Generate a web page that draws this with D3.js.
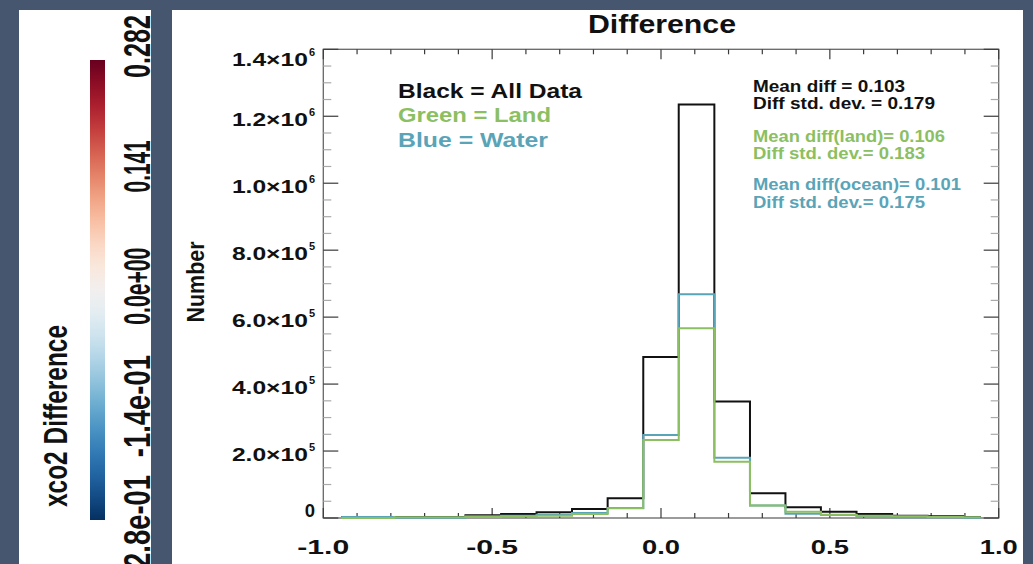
<!DOCTYPE html>
<html><head><meta charset="utf-8">
<script src="https://cdn.jsdelivr.net/npm/d3@7"></script>
<style>html,body{margin:0;padding:0;background:#46566e;overflow:hidden} svg{display:block}</style>
</head><body>
<svg id="c" width="1033" height="564"></svg>
<script>
// ---------- data ----------
const binCenters = [-0.947, -0.842, -0.737, -0.632, -0.526, -0.421, -0.316, -0.211, -0.105, 0.000,
                    0.105, 0.211, 0.316, 0.421, 0.526, 0.632, 0.737, 0.842, 0.947];
const allData   = [3000, 3000, 3000, 3000, 8000, 12000, 17000, 27000, 59000, 481000,
                   1235000, 348000, 74000, 32000, 19000, 12000, 7000, 5000, 3000];
const landData  = [0, 0, 2000, 2000, 3000, 5000, 7000, 12000, 29000, 233000,
                   567000, 168000, 37000, 19000, 10000, 7000, 5000, 3000, 2000];
const waterData = [3000, 3000, 1000, 1000, 5000, 7000, 10000, 15000, 30000, 248000,
                   668000, 180000, 37000, 13000, 9000, 5000, 2000, 2000, 1000];

const yTickValues   = [0, 2e5, 4e5, 6e5, 8e5, 1e6, 1.2e6, 1.4e6];
const yTickMantissa = ["0", "2.0×10", "4.0×10", "6.0×10", "8.0×10", "1.0×10", "1.2×10", "1.4×10"];
const yTickExponent = ["", "5", "5", "5", "5", "6", "6", "6"];
const xTickValues   = [-1, -0.5, 0, 0.5, 1];
const xTickLabels   = ["-1.0", "-0.5", "0.0", "0.5", "1.0"];

const colorbarValues = [0.282, 0.141, 0, -0.141, -0.282];
const colorbarLabels = ["0.282", "0.141", "0.0e+00", "-1.4e-01", "-2.8e-01"];
const colorbarLabelLen = [63, 52, 77, 102, 102];

const legendLabels = ["Black = All Data", "Green = Land", "Blue = Water"];
const legendLen = [184, 153, 150];
const statsLines = ["Mean diff =  0.103", "Diff std. dev. =  0.179",
                    "Mean diff(land)= 0.106", "Diff std. dev.= 0.183",
                    "Mean diff(ocean)= 0.101", "Diff std. dev.= 0.175"];
const statsLen = [152, 182, 192, 172, 208, 172];

const COL_ALL = "#111111", COL_LAND = "#8cbf62", COL_WATER = "#5aa4b8";
const seriesColors = [COL_ALL, COL_LAND, COL_WATER];
const statsColors = [COL_ALL, COL_ALL, COL_LAND, COL_LAND, COL_WATER, COL_WATER];

// ---------- setup ----------
const svg = d3.select("#c");
const F = "'Liberation Sans', Arial, sans-serif";
const FN = "'Liberation Sans Narrow', 'Liberation Sans', Arial, sans-serif";

// panels
svg.append("rect").attr("x", 19).attr("y", 10).attr("width", 132).attr("height", 560).attr("fill", "#fff");
svg.append("rect").attr("x", 172).attr("y", 10).attr("width", 851).attr("height", 560).attr("fill", "#fff");

// ---------- colorbar ----------
const defs = svg.append("defs");
const grad = defs.append("linearGradient").attr("id", "cb").attr("x1", 0).attr("y1", 0).attr("x2", 0).attr("y2", 1);
d3.range(0, 1.0001, 0.05).forEach(t => grad.append("stop").attr("offset", t).attr("stop-color", d3.interpolateRdBu(t)));
const cbY = d3.scaleLinear().domain([-0.282, 0.282]).range([520, 60]);
svg.append("rect").attr("x", 90).attr("y", cbY(0.282)).attr("width", 15)
   .attr("height", cbY(-0.282) - cbY(0.282)).attr("fill", "url(#cb)");
const cbLabY = d3.scaleLinear().domain([-0.282, 0.282]).range([526, 46.5]);
svg.selectAll(".cbl").data(colorbarValues).join("text")
   .attr("transform", (d) => `translate(150,${cbLabY(d)}) rotate(-90)`)
   .attr("text-anchor", "middle").attr("font-family", FN).attr("font-weight", "bold")
   .attr("font-size", 36).attr("fill", "#111")
   .attr("textLength", (d, i) => colorbarLabelLen[i]).attr("lengthAdjust", "spacingAndGlyphs")
   .text((d, i) => colorbarLabels[i]);
svg.append("text").attr("transform", "translate(67,416) rotate(-90)")
   .attr("text-anchor", "middle").attr("font-family", FN).attr("font-weight", "bold")
   .attr("font-size", 34).attr("fill", "#111")
   .attr("textLength", 182).attr("lengthAdjust", "spacingAndGlyphs").text("xco2 Difference");

// ---------- histogram plot ----------
const L = 323.3, R = 998.7, T = 49.3, B = 518;
const x = d3.scaleLinear().domain([-1, 1]).range([L, R]);
const y = d3.scaleLinear().domain([0, 1.4e6]).range([B, T]);

// title
svg.append("text").attr("x", 662).attr("y", 33).attr("text-anchor", "middle")
   .attr("font-family", F).attr("font-weight", "bold").attr("font-size", 25).attr("fill", "#111")
   .attr("textLength", 148).attr("lengthAdjust", "spacingAndGlyphs").text("Difference");

// axes box
const axisCol = "#3a3a3a";
const g = svg.append("g");
g.append("rect").attr("x", L).attr("y", T).attr("width", R - L).attr("height", B - T)
  .attr("fill", "none").attr("stroke", "#666").attr("stroke-width", 1.3);

// x ticks (minor every 0.1, major every 0.5)
const xMinor = d3.range(-10, 11).map(k => k / 10);
xMinor.forEach(v => {
  const major = Math.abs(v * 2 - Math.round(v * 2)) < 1e-6;
  const len = major ? 10 : 5;
  g.append("line").attr("x1", x(v)).attr("x2", x(v)).attr("y1", B).attr("y2", B - len).attr("stroke", axisCol).attr("stroke-width", 1.2);
  g.append("line").attr("x1", x(v)).attr("x2", x(v)).attr("y1", T).attr("y2", T + len).attr("stroke", axisCol).attr("stroke-width", 1.2);
});
// y ticks (minor every 5e4, major every 2e5)
const yMinor = d3.range(0, 29).map(k => k * 5e4);
yMinor.forEach(v => {
  const major = (v % 2e5) === 0;
  const len = major ? 15 : 8;
  const col = major ? axisCol : "#aaa";
  g.append("line").attr("x1", L).attr("x2", L + len).attr("y1", y(v)).attr("y2", y(v)).attr("stroke", col).attr("stroke-width", 1.2);
  g.append("line").attr("x1", R).attr("x2", R - len).attr("y1", y(v)).attr("y2", y(v)).attr("stroke", col).attr("stroke-width", 1.2);
});

// y tick labels
yTickValues.forEach((v, i) => {
  const cy = Math.max(T + 10, Math.min(B - 8, y(v) + 3));
  const t = svg.append("text").attr("x", 315).attr("y", cy + 6.5).attr("text-anchor", "end")
     .attr("font-family", F).attr("font-weight", "bold").attr("font-size", 18.5).attr("fill", "#111");
  if (yTickExponent[i]) {
    t.append("tspan").attr("textLength", 76).attr("lengthAdjust", "spacingAndGlyphs").text(yTickMantissa[i]);
    t.append("tspan").attr("font-size", 11).attr("dy", -10).attr("dx", 1).text(yTickExponent[i]);
  } else {
    t.text(yTickMantissa[i]);
  }
});
// x tick labels
svg.selectAll(".xl").data(xTickValues).join("text")
   .attr("x", d => x(d)).attr("y", 553.5).attr("text-anchor", "middle")
   .attr("font-family", F).attr("font-weight", "bold").attr("font-size", 20).attr("fill", "#111")
   .attr("textLength", (d, i) => xTickLabels[i].startsWith("-") ? 52 : 38).attr("lengthAdjust", "spacingAndGlyphs")
   .text((d, i) => xTickLabels[i]);
// y axis title
svg.append("text").attr("transform", "translate(204,282) rotate(-90)").attr("text-anchor", "middle")
   .attr("font-family", FN).attr("font-weight", "bold").attr("font-size", 24).attr("fill", "#111")
   .attr("textLength", 81).attr("lengthAdjust", "spacingAndGlyphs").text("Number");

// histogram step lines (drawn like IDL psym=10)
const line = d3.line().x(d => x(d[0])).y(d => y(d[1])).curve(d3.curveStep);
[[allData, COL_ALL], [waterData, COL_WATER], [landData, COL_LAND]].forEach(([vals, col]) => {
  svg.append("path").attr("d", line(binCenters.map((c, i) => [c, vals[i]])))
     .attr("fill", "none").attr("stroke", col).attr("stroke-width", 2);
});

// legend text
legendLabels.forEach((s, i) => {
  svg.append("text").attr("x", 398).attr("y", 97.5 + i * 24.5)
     .attr("font-family", F).attr("font-weight", "bold").attr("font-size", 20).attr("fill", seriesColors[i])
     .attr("textLength", legendLen[i]).attr("lengthAdjust", "spacingAndGlyphs").text(s);
});
const statsBase = [91.7, 109.3, 141.7, 159.3, 190, 207.7];
statsLines.forEach((s, i) => {
  svg.append("text").attr("x", 753).attr("y", statsBase[i])
     .attr("font-family", F).attr("font-weight", "bold").attr("font-size", 16).attr("fill", statsColors[i])
     .attr("textLength", statsLen[i]).attr("lengthAdjust", "spacingAndGlyphs").text(s);
});
</script>
</body></html>
